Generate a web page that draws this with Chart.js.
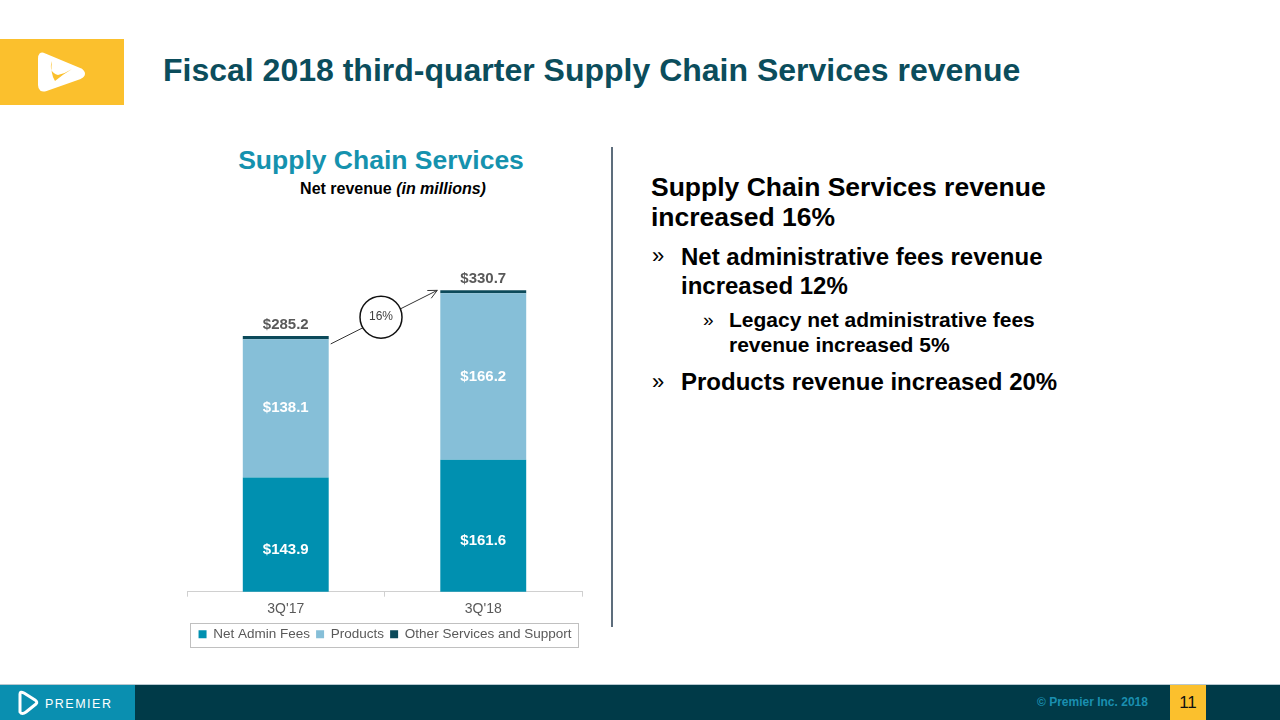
<!DOCTYPE html>
<html>
<head>
<meta charset="utf-8">
<script src="https://cdn.jsdelivr.net/npm/chart.js@4"></script>
<style>
  body { margin: 0; width: 1280px; height: 720px; position: relative; background: #fff; font-family: Arial, "Liberation Sans", sans-serif; overflow: hidden; }
  .abs { position: absolute; }
  #logoBox { left: 0; top: 39px; width: 124px; height: 66px; background: #fbc02d; }
  #title { left: 163px; top: 52px; font-size: 32px; font-weight: bold; color: #0b4d5c; white-space: nowrap; }
  #ctitle { left: 181px; width: 400px; top: 145px; text-align: center; font-size: 26.5px; font-weight: bold; color: #1592ae; }
  #csub { left: 193px; width: 400px; top: 180px; text-align: center; font-size: 16px; font-weight: bold; color: #000; }
  #divider { left: 611px; top: 147px; width: 2px; height: 480px; background: #5d6d7c; }
  .rt { color: #000; font-weight: bold; white-space: nowrap; }
  #footer { left: 0; top: 684px; width: 1280px; height: 36px; background: #003a48; border-top: 1px solid #b8c8d0; }
  #footLogo { left: 0; top: 685px; width: 135px; height: 35px; background: #0a8fb0; }
  #copy { left: 1037px; top: 695px; font-size: 12px; font-weight: bold; color: #1a8fb0; }
  #page { left: 1170px; top: 685px; width: 36px; height: 35px; background: #fbc02d; font-size: 17px; text-align: center; line-height: 35px; color: #111; }
  #chartWrap { left: 170px; top: 250px; width: 430px; height: 410px; }
</style>
</head>
<body>
<div id="logoBox" class="abs">
  <svg width="124" height="66" viewBox="0 0 124 66">
    <path d="M44 16 Q40 14 40 20 L40 46 Q40 52 46 50 L80 38 Q86 35 80 31 Z" fill="#fff" stroke="#fff" stroke-width="4" stroke-linejoin="round"/>
    <path d="M52 22 Q48 33 58 36 Q66 34 72 30 Q62 36 55 42 Q50 34 52 22 Z" fill="#fbc02d"/>
  </svg>
</div>
<div id="title" class="abs">Fiscal 2018 third-quarter Supply Chain Services revenue</div>

<div id="ctitle" class="abs">Supply Chain Services</div>
<div id="csub" class="abs">Net revenue <i>(in millions)</i></div>

<div id="chartWrap" class="abs"><canvas id="chart" width="430" height="410"></canvas></div>

<div id="divider" class="abs"></div>

<div class="abs rt" style="left:651px; top:172px; font-size:26.5px; line-height:30px;">Supply Chain Services revenue<br>increased 16%</div>
<div class="abs rt" style="left:652px; top:243px; font-size:22px; font-weight:normal;">»</div>
<div class="abs rt" style="left:681px; top:242px; font-size:24px; line-height:29px;">Net administrative fees revenue<br>increased 12%</div>
<div class="abs rt" style="left:703px; top:309px; font-size:19px; font-weight:normal;">»</div>
<div class="abs rt" style="left:729px; top:307px; font-size:21px; line-height:25px;">Legacy net administrative fees<br>revenue increased 5%</div>
<div class="abs rt" style="left:652px; top:369px; font-size:22px; font-weight:normal;">»</div>
<div class="abs rt" style="left:681px; top:368px; font-size:24px;">Products revenue increased 20%</div>

<div id="footer" class="abs"></div>
<div id="footLogo" class="abs">
  <svg width="135" height="35" viewBox="0 0 135 35">
    <path d="M20 9 L20 27 Q22 30 26 27 L36 19 Q38 17 35 15 L24 8 Q20 6 20 9 Z" fill="none" stroke="#fff" stroke-width="3" stroke-linejoin="round"/>
    <text x="45" y="23" fill="#fff" font-family="Arial, Liberation Sans" font-size="12.5" letter-spacing="1.5">PREMIER</text>
  </svg>
</div>
<div id="copy" class="abs">© Premier Inc. 2018</div>
<div id="page" class="abs">11</div>

<script>
const categories = ["3Q'17", "3Q'18"];
const netAdminFees = [143.9, 161.6];
const products = [138.1, 166.2];
const otherServices = [3.2, 2.9];
const totals = [285.2, 330.7];
const growthLabel = "16%";

const segLabels = {
  id: "segLabels",
  afterDatasetsDraw(chart) {
    const ctx = chart.ctx;
    ctx.save();
    ctx.textAlign = "center";
    ctx.textBaseline = "middle";
    ctx.font = "bold 15px Arial, 'Liberation Sans'";
    ctx.fillStyle = "#fff";
    [0, 1].forEach(di => {
      chart.getDatasetMeta(di).data.forEach((bar, i) => {
        const v = chart.data.datasets[di].data[i];
        ctx.fillText("$" + v.toFixed(1), bar.x, (bar.y + bar.base) / 2);
      });
    });
    // totals on top
    ctx.fillStyle = "#595959";
    const top = chart.getDatasetMeta(2).data;
    top.forEach((bar, i) => {
      ctx.fillText("$" + totals[i].toFixed(1), bar.x, bar.y - 11);
    });
    // growth arrow + circle
    const a = top[0], b = top[1];
    const x1 = a.x + a.width / 2 + 2, y1 = a.y + 8;
    const x2 = b.x - b.width / 2 - 3, y2 = b.y;
    ctx.strokeStyle = "#333";
    ctx.lineWidth = 1;
    ctx.beginPath();
    ctx.moveTo(x1, y1);
    ctx.lineTo(x2, y2);
    ctx.stroke();
    const ang = Math.atan2(y2 - y1, x2 - x1);
    ctx.beginPath();
    ctx.moveTo(x2 - 10 * Math.cos(ang - 0.45), y2 - 10 * Math.sin(ang - 0.45));
    ctx.lineTo(x2, y2);
    ctx.lineTo(x2 - 10 * Math.cos(ang + 0.45), y2 - 10 * Math.sin(ang + 0.45));
    ctx.stroke();
    const cx = (x1 + x2) / 2 - 3, cy = (y1 + y2) / 2;
    ctx.beginPath();
    ctx.arc(cx, cy, 21, 0, Math.PI * 2);
    ctx.fillStyle = "#fff";
    ctx.fill();
    ctx.lineWidth = 1.5;
    ctx.strokeStyle = "#111";
    ctx.stroke();
    ctx.fillStyle = "#404040";
    ctx.font = "12px Arial, 'Liberation Sans'";
    ctx.fillText(growthLabel, cx, cy);
    ctx.restore();
  },
  afterDraw(chart) {
    const boxes = chart.legend.legendHitBoxes;
    if (!boxes || !boxes.length) return;
    const last = boxes[boxes.length - 1];
    const l = boxes[0].left - 9;
    const r = last.left + last.width + 6;
    const t = boxes[0].top - 5;
    const ctx = chart.ctx;
    ctx.save();
    ctx.strokeStyle = "#c0c0c0";
    ctx.lineWidth = 1;
    ctx.strokeRect(Math.round(l) + 0.5, Math.round(t) + 0.5, Math.round(r - l), 24);
    ctx.restore();
  }
};

const hiddenAxis = (pos, w) => ({
  position: pos,
  stacked: true,
  min: 30,
  max: 350,
  grid: { display: false },
  border: { display: false },
  ticks: { display: false },
  afterFit: s => { s.width = w; }
});

new Chart(document.getElementById("chart"), {
  type: "bar",
  data: {
    labels: categories,
    datasets: [
      { label: "Net Admin Fees", data: netAdminFees, backgroundColor: "#0090b0" },
      { label: "Products", data: products, backgroundColor: "#86bfd8" },
      { label: "Other Services and Support", data: otherServices, backgroundColor: "#0c4a5a" }
    ]
  },
  options: {
    responsive: false,
    animation: false,
    layout: { padding: { left: 0, right: 0, top: 21, bottom: 9 } },
    categoryPercentage: 0.87,
    barPercentage: 0.5,
    plugins: {
      legend: {
        position: "bottom",
        labels: {
          boxWidth: 8, boxHeight: 8, padding: 6,
          color: "#595959",
          font: { family: "Arial, 'Liberation Sans'", size: 13.5 }
        }
      },
      tooltip: { enabled: false }
    },
    scales: {
      x: {
        stacked: true,
        grid: { drawOnChartArea: false, drawTicks: true, tickLength: 5, color: "#d0d0d0" },
        border: { color: "#d0d0d0" },
        ticks: { color: "#595959", font: { family: "Arial, 'Liberation Sans'", size: 14 }, padding: 4 }
      },
      y: hiddenAxis("left", 17),
      y2: hiddenAxis("right", 18)
    }
  },
  plugins: [segLabels]
});
</script>
</body>
</html>
